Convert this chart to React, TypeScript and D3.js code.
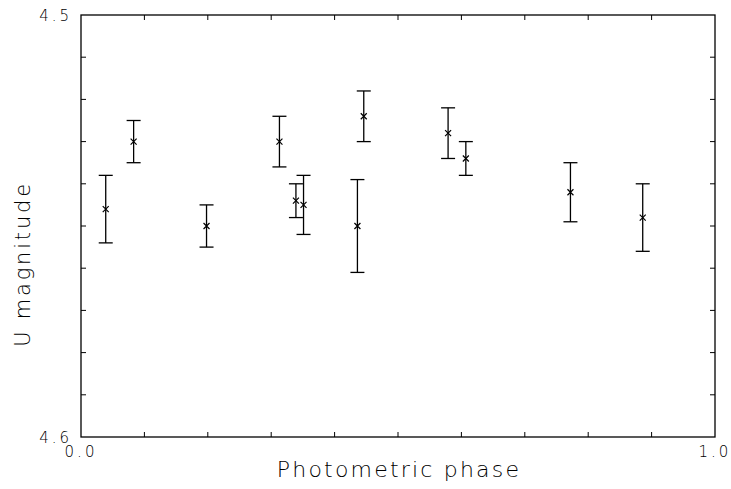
import { useEffect, useRef } from 'react';
import * as d3 from 'd3';

const W = 731;
const H = 489;
const MARGIN = { top: 15, right: 16, bottom: 52, left: 81 };

// photometric phase, U magnitude, 1-sigma error
const phase = [0.039, 0.083, 0.198, 0.313, 0.339, 0.351, 0.436, 0.446, 0.579, 0.607, 0.772, 0.886];
const umag = [4.546, 4.530, 4.550, 4.530, 4.544, 4.545, 4.550, 4.524, 4.528, 4.534, 4.542, 4.548];
const uerr = [0.008, 0.005, 0.005, 0.006, 0.004, 0.007, 0.011, 0.006, 0.006, 0.004, 0.007, 0.008];

const xTicks = [0, 0.1, 0.2, 0.3, 0.4, 0.5, 0.6, 0.7, 0.8, 0.9, 1.0];
const yTicks = [4.5, 4.51, 4.52, 4.53, 4.54, 4.55, 4.56, 4.57, 4.58, 4.59, 4.6];
const xLabels = ['0.0', '1.0'];
const yLabels = ['4.5', '4.6'];

const FONT = "'DejaVu Sans', sans-serif";
const INK = '#000';

export default function App() {
  const svgRef = useRef<SVGSVGElement>(null);

  useEffect(() => {
    const svg = d3.select(svgRef.current);
    svg.selectAll('*').remove();

    const innerW = W - MARGIN.left - MARGIN.right;
    const innerH = H - MARGIN.top - MARGIN.bottom;

    const x = d3.scaleLinear().domain([0, 1]).range([0, innerW]);
    const y = d3.scaleLinear().domain([4.5, 4.6]).range([0, innerH]);

    const g = svg.append('g').attr('transform', `translate(${MARGIN.left},${MARGIN.top})`);

    // frame
    g.append('rect')
      .attr('x', 0).attr('y', 0)
      .attr('width', innerW).attr('height', innerH)
      .attr('fill', 'none').attr('stroke', INK).attr('stroke-width', 1.3);

    const TL = 5;
    const inner = xTicks.slice(1, -1);
    const innerY = yTicks.slice(1, -1);

    // x ticks bottom + top
    g.selectAll('.xt-b').data(inner).join('line')
      .attr('x1', d => x(d)).attr('x2', d => x(d))
      .attr('y1', innerH).attr('y2', innerH - TL)
      .attr('stroke', INK).attr('stroke-width', 1);
    g.selectAll('.xt-t').data(inner).join('line')
      .attr('x1', d => x(d)).attr('x2', d => x(d))
      .attr('y1', 0).attr('y2', TL)
      .attr('stroke', INK).attr('stroke-width', 1);

    // y ticks left + right
    g.selectAll('.yt-l').data(innerY).join('line')
      .attr('x1', 0).attr('x2', TL)
      .attr('y1', d => y(d)).attr('y2', d => y(d))
      .attr('stroke', INK).attr('stroke-width', 1);
    g.selectAll('.yt-r').data(innerY).join('line')
      .attr('x1', innerW).attr('x2', innerW - TL)
      .attr('y1', d => y(d)).attr('y2', d => y(d))
      .attr('stroke', INK).attr('stroke-width', 1);

    // tick labels (ends only)
    g.selectAll('.xl').data(xLabels).join('text')
      .attr('x', d => x(+d))
      .attr('y', innerH + 20)
      .attr('text-anchor', 'middle')
      .attr('font-family', FONT).attr('font-size', 15).attr('font-weight', 200)
      .attr('letter-spacing', 3)
      .attr('fill', INK)
      .text(d => d);

    g.selectAll('.yl').data(yLabels).join('text')
      .attr('x', -9)
      .attr('y', d => y(+d) + 5.5)
      .attr('text-anchor', 'end')
      .attr('font-family', FONT).attr('font-size', 15).attr('font-weight', 200)
      .attr('letter-spacing', 3)
      .attr('fill', INK)
      .text(d => d);

    // error bars
    const CAP = 7;
    const pts = phase.map((p, i) => ({ p, m: umag[i], e: uerr[i] }));
    const eb = g.append('g').attr('stroke', INK).attr('stroke-width', 1.3);
    pts.forEach(d => {
      const cx = x(d.p);
      const y0 = y(d.m - d.e);
      const y1 = y(d.m + d.e);
      eb.append('line').attr('x1', cx).attr('x2', cx).attr('y1', y0).attr('y2', y1);
      eb.append('line').attr('x1', cx - CAP).attr('x2', cx + CAP).attr('y1', y0).attr('y2', y0);
      eb.append('line').attr('x1', cx - CAP).attr('x2', cx + CAP).attr('y1', y1).attr('y2', y1);
    });

    // cross markers
    const MK = 3;
    g.append('g').selectAll('path').data(pts).join('path')
      .attr('d', d => {
        const cx = x(d.p), cy = y(d.m);
        return `M${cx - MK},${cy - MK}L${cx + MK},${cy + MK}M${cx - MK},${cy + MK}L${cx + MK},${cy - MK}`;
      })
      .attr('stroke', INK).attr('stroke-width', 1.2).attr('fill', 'none');

    // axis titles
    svg.append('text')
      .attr('x', MARGIN.left + innerW / 2 + 1)
      .attr('y', 477)
      .attr('text-anchor', 'middle')
      .attr('font-family', FONT).attr('font-size', 22).attr('font-weight', 200)
      .attr('letter-spacing', 2.2)
      .attr('fill', INK)
      .text('Photometric phase');

    svg.append('text')
      .attr('transform', 'translate(30,264) rotate(-90)')
      .attr('text-anchor', 'middle')
      .attr('font-family', FONT).attr('font-size', 21).attr('font-weight', 200)
      .attr('letter-spacing', 2.8)
      .attr('fill', INK)
      .text('U magnitude');
  }, []);

  return (
    <svg
      ref={svgRef}
      width={W}
      height={H}
      style={{ position: 'absolute', left: 0, top: 0, background: '#fff' }}
    />
  );
}
